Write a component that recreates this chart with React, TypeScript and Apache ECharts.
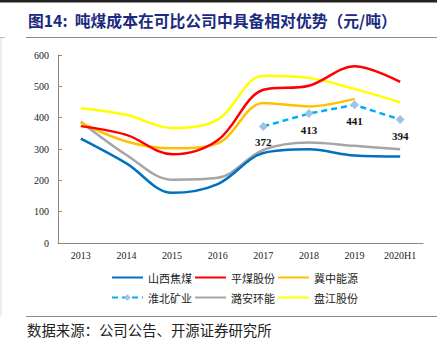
import React, { useEffect, useRef } from "react";
import * as echarts from "echarts";

const categories = ["2013", "2014", "2015", "2016", "2017", "2018", "2019", "2020H1"];
const shanxi = [333, 254, 160, 188, 287, 299, 279, 276];
const pingmei = [373, 345, 283, 328, 489, 502, 564, 514];
const jizhong = [384, 324, 302, 318, 447, 436, 460, null];
const huaibei = [null, null, null, null, 372, 413, 441, 394];
const luan = [387, 281, 202, 208, 297, 321, 310, 299];
const panjiang = [430, 409, 367, 394, 534, 527, 492, 449];

const names = ["山西焦煤", "平煤股份", "冀中能源", "淮北矿业", "潞安环能", "盘江股份"];
const yTicks = { min: 0, max: 600, interval: 100 };

export default function App() {
  const ref = useRef<HTMLDivElement>(null);
  useEffect(() => {
    document.body.style.margin = "0";
    const chart = echarts.init(ref.current!, null, { renderer: "svg" });
    const serif = "Liberation Serif";
    const cjk = "Noto Sans CJK SC";
    const lineSeries = (name: string, data: any[], color: string, z: number) => ({
      name,
      type: "line",
      data,
      smooth: 0.35,
      symbol: "none",
      z,
      lineStyle: { color, width: 2.5 },
      itemStyle: { color },
    });
    const legendItem = (n: string) =>
      n === "淮北矿业" ? { name: n } : { name: n, itemStyle: { opacity: 0 } };
    const legendBase = {
      left: 106,
      itemWidth: 31,
      itemHeight: 8,
      itemGap: 2,
      textStyle: { fontFamily: cjk, fontSize: 11, color: "#222" },
    };
    chart.setOption({
      animation: false,
      backgroundColor: "#fff",
      grid: { left: 58, right: 18, top: 55, bottom: 111 },
      xAxis: {
        type: "category",
        data: categories,
        boundaryGap: true,
        axisLine: { lineStyle: { color: "#898989", width: 1 } },
        axisTick: { inside: true, length: 4, lineStyle: { color: "#898989" } },
        axisLabel: { color: "#222", fontFamily: serif, fontSize: 10, margin: 7 },
      },
      yAxis: {
        type: "value",
        min: yTicks.min,
        max: yTicks.max,
        interval: yTicks.interval,
        axisLine: { show: true, lineStyle: { color: "#898989", width: 1 } },
        axisTick: { show: true, inside: true, length: 4, lineStyle: { color: "#898989" } },
        splitLine: { show: false },
        axisLabel: { color: "#222", fontFamily: serif, fontSize: 10, margin: 9 },
      },
      legend: [
        { ...legendBase, top: 267, data: names.slice(0, 3).map(legendItem) },
        { ...legendBase, top: 287, data: names.slice(3, 6).map(legendItem) },
      ],
      series: [
        lineSeries(names[5], panjiang, "#FFFF00", 2),
        lineSeries(names[4], luan, "#A5A5A5", 2),
        lineSeries(names[2], jizhong, "#FFC000", 3),
        lineSeries(names[1], pingmei, "#FF0000", 4),
        lineSeries(names[0], shanxi, "#0070C0", 5),
        {
          name: names[3],
          type: "line",
          data: huaibei,
          smooth: false,
          symbol: "diamond",
          symbolSize: 9,
          z: 6,
          lineStyle: { color: "#00B0F0", width: 2.5, type: [6, 4] },
          itemStyle: { color: "#9DC3E6" },
          label: {
            show: true,
            position: "bottom",
            distance: 6,
            color: "#111",
            fontFamily: serif,
            fontWeight: "bold",
            fontSize: 11,
          },
        },
      ],
      graphic: [
        { type: "rect", shape: { x: 0, y: 0, width: 437, height: 2.5 }, style: { fill: "#222" } },
        {
          type: "text",
          x: 28,
          y: 20,
          style: {
            text: "图14:  吨煤成本在可比公司中具备相对优势（元/吨）",
            fill: "#1b2a80",
            font: `bold 15.8px "${cjk}"`,
            verticalAlign: "middle",
          },
        },
        { type: "line", shape: { x1: 26, y1: 37.5, x2: 437, y2: 37.5 }, style: { stroke: "#8c8c8c", lineWidth: 1.2 } },
        { type: "line", shape: { x1: 0, y1: 37.5, x2: 5, y2: 37.5 }, style: { stroke: "#bbb", lineWidth: 1 } },
        { type: "line", shape: { x1: 1, y1: 38, x2: 1, y2: 316 }, style: { stroke: "#ddd", lineWidth: 1 } },
        { type: "line", shape: { x1: 26, y1: 316.5, x2: 437, y2: 316.5 }, style: { stroke: "#8c8c8c", lineWidth: 1.2 } },
        {
          type: "text",
          x: 27,
          y: 329,
          style: {
            text: "数据来源：公司公告、开源证券研究所",
            fill: "#222",
            font: `14.4px "${cjk}"`,
            verticalAlign: "middle",
          },
        },
      ],
    });
    return () => chart.dispose();
  }, []);
  return <div ref={ref} style={{ width: 441, height: 354 }} />;
}
